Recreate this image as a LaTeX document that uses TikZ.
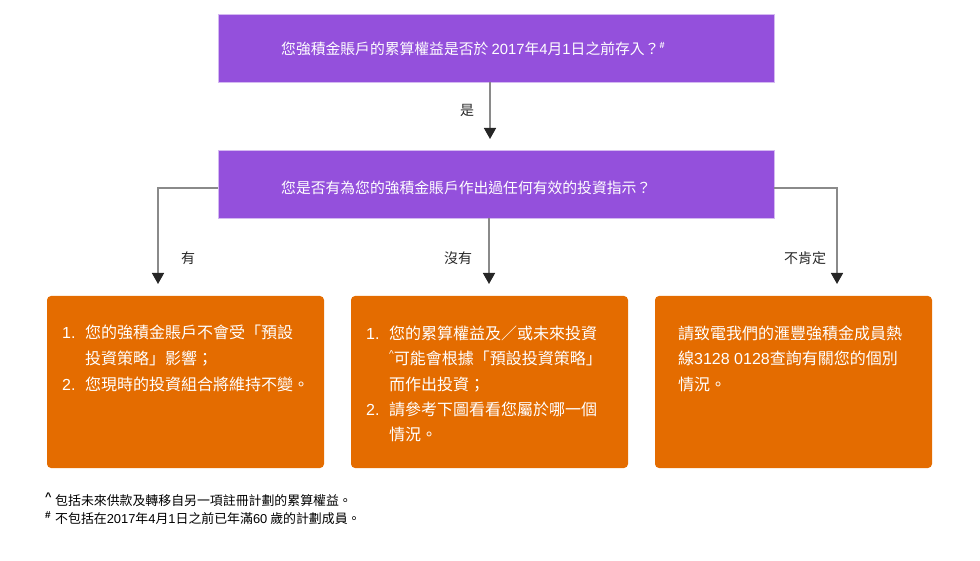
\documentclass[tikz,border=0pt]{standalone}
\usepackage{fontspec}
\setmainfont{Noto Sans CJK TC}
\newfontfamily\lat{Liberation Sans}
\usetikzlibrary{arrows.meta}
\definecolor{qpurple}{RGB}{148,80,220}
\definecolor{aorange}{RGB}{228,108,0}
\definecolor{linegray}{RGB}{138,138,138}
\definecolor{labgray}{RGB}{40,40,40}
\begin{document}
\begin{tikzpicture}[x=1pt,y=-1pt,
  qbox/.style={fill=qpurple,draw=qpurple!40,line width=0.6pt,minimum width=556pt,minimum height=68pt,inner sep=0pt},
  abox/.style={fill=aorange,rounded corners=4pt,minimum width=277pt,minimum height=172pt,inner sep=0pt},
  qtext/.style={anchor=base west,inner sep=0pt,text=white,font=\fontsize{14.8pt}{18pt}\selectfont},
  atext/.style={anchor=base west,inner sep=0pt,text=white,font=\fontsize{16pt}{20pt}\selectfont},
  lab/.style={inner sep=0pt,text=labgray,font=\fontsize{14pt}{17pt}\selectfont},
  foot/.style={anchor=base west,inner sep=0pt,text=black,font=\fontsize{12.9pt}{15pt}\selectfont},
  conn/.style={draw=linegray,line width=1.5pt,-{Triangle[width=12pt,length=11pt,color=black!85]}}]
\useasboundingbox (0,0) rectangle (980,561);

% question boxes
\node[qbox] (q1) at (496,48) {};
\node[qtext] (q1t) at (281,55) {您強積金賬戶的累算權益是否於 {\lat 2017}年{\lat 4}月{\lat 1}日之前存入？\raisebox{0.45em}{\lat\bfseries\fontsize{9pt}{10pt}\selectfont\#}};
\node[qbox] (q2) at (496,184) {};
\node[qtext] (q2t) at (281,194) {您是否有為您的強積金賬戶作出過任何有效的投資指示？};

% answer boxes
\node[abox] (a1) at (185.5,382) {};
\node[abox] (a2) at (489.5,382) {};
\node[abox] (a3) at (793.5,382) {};

% connectors
\coordinate (t1) at (490,139);
\draw[conn] (q1.south -| t1) -- (t1);
\node[lab] (l0) at (467,110) {是};

\coordinate (t2) at (158,284);
\draw[conn] ([yshift=-4pt]q2.west) -| (t2);
\node[lab] (l1) at (188,258) {有};

\coordinate (t3) at (489,284);
\draw[conn] (q2.south -| t3) -- (t3);
\node[lab] (l2) at (458,258) {沒有};

\coordinate (t4) at (837,284);
\draw[conn] ([yshift=-4pt]q2.east) -| (t4);
\node[lab] (l3) at (805,258) {不肯定};

% left box text
\node[atext] (a1n1) at (62,338) {\lat 1.};
\node[atext] (a1l1) at (85,338) {您的強積金賬戶不會受「預設};
\node[atext] (a1l2) at (85,364) {投資策略」影響；};
\node[atext] (a1n2) at (62,390) {\lat 2.};
\node[atext] (a1l3) at (85,390) {您現時的投資組合將維持不變。};

% middle box text
\node[atext] (a2n1) at (366,339) {\lat 1.};
\node[atext] (a2l1) at (389,339) {您的累算權益及／或未來投資};
\node[atext] (a2l2) at (389,364) {\raisebox{0.4em}{\lat\fontsize{10pt}{11pt}\selectfont\^{}}可能會根據「預設投資策略」};
\node[atext] (a2l3) at (389,390) {而作出投資；};
\node[atext] (a2n2) at (366,415) {\lat 2.};
\node[atext] (a2l4) at (389,415) {請參考下圖看看您屬於哪一個};
\node[atext] (a2l5) at (389,440) {情況。};

% right box text
\node[atext] (a3l1) at (678,339) {請致電我們的滙豐強積金成員熱};
\node[atext] (a3l2) at (678,364) {線{\lat 3128 0128}查詢有關您的個別};
\node[atext] (a3l3) at (678,390) {情況。};

% footnotes
\node[foot] (f1m) at (45,504) {\raisebox{0.3em}{\lat\bfseries\fontsize{11pt}{12pt}\selectfont\^{}}};
\node[foot] (f1) at (55,505) {包括未來供款及轉移自另一項註冊計劃的累算權益。};
\node[foot] (f2m) at (45,522) {\raisebox{0.3em}{\lat\bfseries\fontsize{10pt}{11pt}\selectfont\#}};
\node[foot] (f2) at (55,523) {不包括在{\lat 2017}年{\lat 4}月{\lat 1}日之前已年滿{\lat 60} 歲的計劃成員。};
\end{tikzpicture}
\end{document}
